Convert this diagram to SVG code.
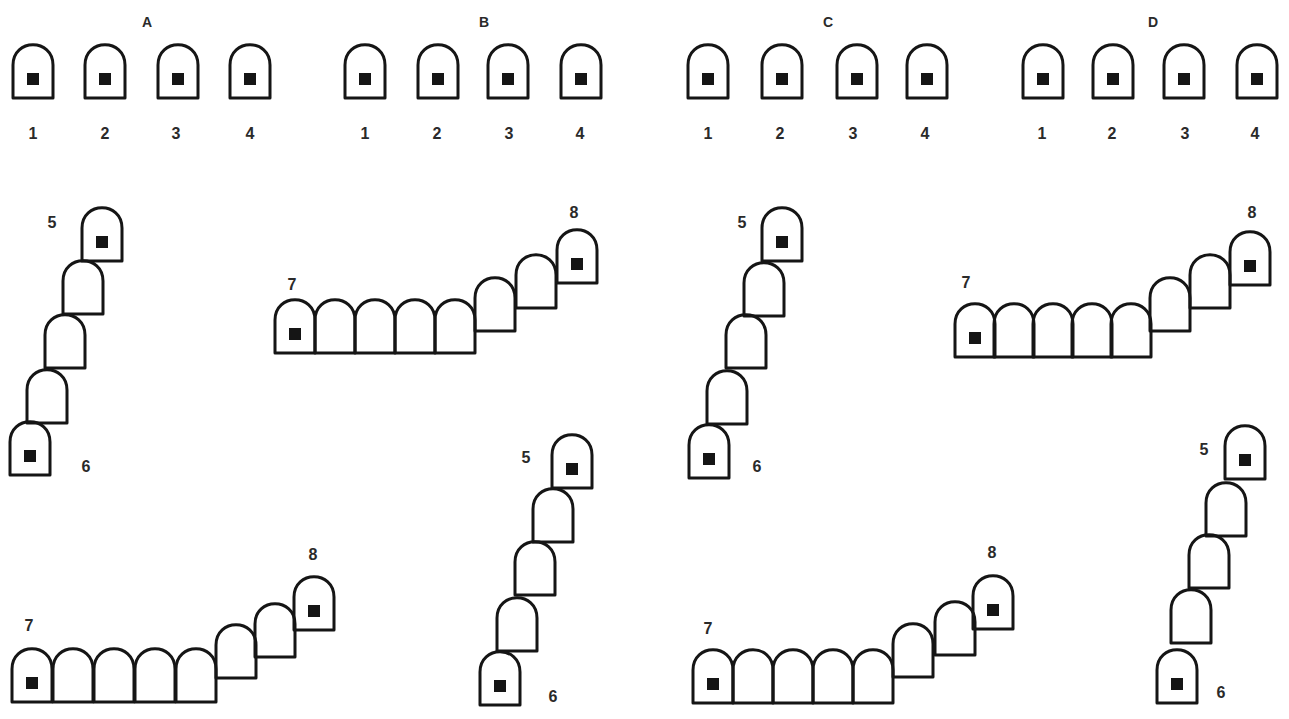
<svg xmlns="http://www.w3.org/2000/svg" xmlns:xlink="http://www.w3.org/1999/xlink" width="1289" height="719" viewBox="0 0 1289 719">
<style>
.tooth{fill:none;stroke:#151515;stroke-width:3;stroke-linejoin:round}
.dot{fill:#151515}
.num{font-family:"Liberation Sans",Arial,sans-serif;font-size:16px;font-weight:bold;fill:#2a2a2a;text-anchor:middle}
.grp{font-family:"Liberation Sans",Arial,sans-serif;font-size:14px;font-weight:bold;fill:#2a2a2a;text-anchor:middle}
</style>
<defs>
<path id="t" class="tooth" d="M0,54 V21 C0,-6 40,-6 40,21 V54 Z"/>
<g id="ts"><use href="#t"/><rect class="dot" x="14" y="29" width="12" height="12"/></g>
</defs>
<rect width="1289" height="719" fill="#ffffff"/>

<!-- Group headers -->
<g id="headers">
<text class="grp" x="147" y="27">A</text>
<text class="grp" x="484" y="27">B</text>
<text class="grp" x="828" y="27">C</text>
<text class="grp" x="1153" y="27">D</text>
</g>

<!-- Top row -->
<g id="A-row">
<g id="A1"><use href="#ts" x="13" y="44"/><text class="num" x="33" y="139">1</text></g>
<g id="A2"><use href="#ts" x="85" y="44"/><text class="num" x="105" y="139">2</text></g>
<g id="A3"><use href="#ts" x="158" y="44"/><text class="num" x="176" y="139">3</text></g>
<g id="A4"><use href="#ts" x="230" y="44"/><text class="num" x="250" y="139">4</text></g>
</g>
<g id="B-row">
<g id="B1"><use href="#ts" x="345" y="44"/><text class="num" x="365" y="139">1</text></g>
<g id="B2"><use href="#ts" x="418" y="44"/><text class="num" x="437" y="139">2</text></g>
<g id="B3"><use href="#ts" x="488" y="44"/><text class="num" x="509" y="139">3</text></g>
<g id="B4"><use href="#ts" x="561" y="44"/><text class="num" x="580" y="139">4</text></g>
</g>
<g id="C-row">
<g id="C1"><use href="#ts" x="688" y="44"/><text class="num" x="708" y="139">1</text></g>
<g id="C2"><use href="#ts" x="762" y="44"/><text class="num" x="780" y="139">2</text></g>
<g id="C3"><use href="#ts" x="837" y="44"/><text class="num" x="853" y="139">3</text></g>
<g id="C4"><use href="#ts" x="907" y="44"/><text class="num" x="925" y="139">4</text></g>
</g>
<g id="D-row">
<g id="D1"><use href="#ts" x="1023" y="44"/><text class="num" x="1042" y="139">1</text></g>
<g id="D2"><use href="#ts" x="1093" y="44"/><text class="num" x="1112" y="139">2</text></g>
<g id="D3"><use href="#ts" x="1164" y="44"/><text class="num" x="1185" y="139">3</text></g>
<g id="D4"><use href="#ts" x="1237" y="44"/><text class="num" x="1255" y="139">4</text></g>
</g>

<!-- A vertical chain 5-6 -->
<g id="A-vert">
<use href="#ts" x="82" y="207"/>
<use href="#t" x="63" y="260"/>
<use href="#t" x="45" y="314"/>
<use href="#t" x="27" y="369"/>
<use href="#ts" x="10" y="421"/>
<text class="num" x="52" y="228">5</text>
<text class="num" x="86" y="472">6</text>
</g>

<!-- A horizontal chain 7-8 (top) -->
<g id="A-horiz-top">
<use href="#ts" x="275" y="299"/>
<use href="#t" x="315" y="299"/>
<use href="#t" x="355" y="299"/>
<use href="#t" x="395" y="299"/>
<use href="#t" x="435" y="299"/>
<use href="#t" x="475" y="277"/>
<use href="#t" x="516" y="254"/>
<use href="#ts" x="557" y="229"/>
<text class="num" x="292" y="290">7</text>
<text class="num" x="574" y="218">8</text>
</g>

<!-- B horizontal chain 7-8 (bottom left) -->
<g id="B-horiz">
<use href="#ts" x="12" y="648"/>
<use href="#t" x="53" y="648"/>
<use href="#t" x="94" y="648"/>
<use href="#t" x="135" y="648"/>
<use href="#t" x="176" y="648"/>
<use href="#t" x="216" y="624"/>
<use href="#t" x="255" y="603"/>
<use href="#ts" x="294" y="576"/>
<text class="num" x="29" y="631">7</text>
<text class="num" x="313" y="560">8</text>
</g>

<!-- B vertical chain 5-6 -->
<g id="B-vert">
<use href="#ts" x="552" y="434"/>
<use href="#t" x="533" y="488"/>
<use href="#t" x="515" y="541"/>
<use href="#t" x="497" y="597"/>
<use href="#ts" x="480" y="651"/>
<text class="num" x="526" y="463">5</text>
<text class="num" x="553" y="702">6</text>
</g>

<!-- C vertical chain 5-6 -->
<g id="C-vert">
<use href="#ts" x="762" y="207"/>
<use href="#t" x="744" y="262"/>
<use href="#t" x="726" y="314"/>
<use href="#t" x="707" y="370"/>
<use href="#ts" x="689" y="424"/>
<text class="num" x="742" y="228">5</text>
<text class="num" x="757" y="472">6</text>
</g>

<!-- C horizontal chain 7-8 (top) -->
<g id="C-horiz-top">
<use href="#ts" x="955" y="303"/>
<use href="#t" x="994" y="303"/>
<use href="#t" x="1033" y="303"/>
<use href="#t" x="1072" y="303"/>
<use href="#t" x="1111" y="303"/>
<use href="#t" x="1150" y="277"/>
<use href="#t" x="1190" y="254"/>
<use href="#ts" x="1230" y="231"/>
<text class="num" x="966" y="288">7</text>
<text class="num" x="1252" y="218">8</text>
</g>

<!-- D horizontal chain 7-8 (bottom) -->
<g id="D-horiz">
<use href="#ts" x="693" y="649"/>
<use href="#t" x="733" y="649"/>
<use href="#t" x="773" y="649"/>
<use href="#t" x="813" y="649"/>
<use href="#t" x="853" y="649"/>
<use href="#t" x="893" y="623"/>
<use href="#t" x="935" y="601"/>
<use href="#ts" x="973" y="575"/>
<text class="num" x="708" y="634">7</text>
<text class="num" x="992" y="558">8</text>
</g>

<!-- D vertical chain 5-6 -->
<g id="D-vert">
<use href="#ts" x="1225" y="425"/>
<use href="#t" x="1206" y="482"/>
<use href="#t" x="1189" y="534"/>
<use href="#t" x="1171" y="589"/>
<use href="#ts" x="1157" y="649"/>
<text class="num" x="1204" y="455">5</text>
<text class="num" x="1221" y="698">6</text>
</g>
</svg>
